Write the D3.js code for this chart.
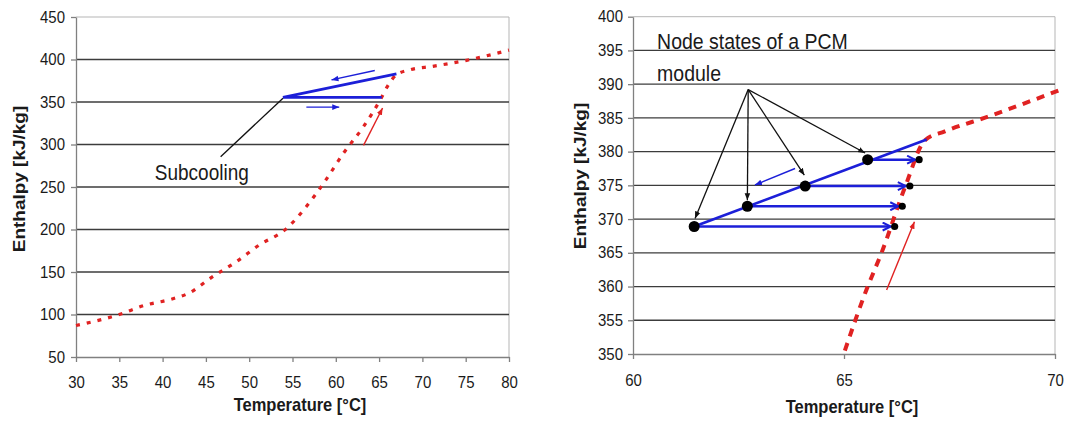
<!DOCTYPE html>
<html>
<head>
<meta charset="utf-8">
<script src="https://cdn.jsdelivr.net/npm/d3@7"></script>
<style>
  body { margin: 0; background: #fff; }
  svg text { font-family: "Liberation Sans", Arial, sans-serif; fill: #1a1a1a; }
</style>
</head>
<body>
<div id="chart"></div>
<script>
// ---- left panel: whole enthalpy curve ----
var leftXTicks = [30, 35, 40, 45, 50, 55, 60, 65, 70, 75, 80];
var leftYTicks = [50, 100, 150, 200, 250, 300, 350, 400, 450];
var leftCurve = [[30, 87], [35, 100], [38, 111], [41, 118], [43, 125], [45.7, 144], [48.5, 162],
  [51.2, 182], [54.3, 201], [56.6, 227], [58.7, 256], [60.9, 290], [63.2, 321], [65.1, 352],
  [66, 369], [67, 382], [68.6, 388], [71.2, 392], [75.1, 399], [80, 411]];
var leftCooling = [[65.3, 355.5], [53.9, 355.5], [67, 383]];
var leftBlueArrows = [[[64.5, 387], [59.5, 376]], [[56.6, 344], [60.4, 344]]];
var leftRedArrows = [[[63.2, 299], [65.4, 343]]];
var leftPointer = [[46.7, 285.6], [53.9, 354.5]];
var leftLabel = { t: 39.1, h: 258, lines: ["Subcooling"] };

// ---- right panel: zoom on the phase change ----
var rightXTicks = [60, 65, 70];
var rightYTicks = [350, 355, 360, 365, 370, 375, 380, 385, 390, 395, 400];
var rightCurve = [[65.02, 350.5], [65.53, 359.5], [65.89, 365], [66.45, 374.8], [66.92, 381.7],
  [67.39, 383], [68.42, 385.2], [70.1, 389.1]];
var rightCooling = [[61.45, 368.9], [66.96, 381.8]];
var nodeStart = [[61.45, 368.9], [62.71, 371.9], [64.08, 374.9], [65.56, 378.8]];
var nodeEnd = [[66.2, 368.9], [66.38, 371.9], [66.56, 374.9], [66.78, 378.8]];
var rightBlueArrows = [[[63.84, 377.5], [62.89, 375.05]]];
var rightRedArrows = [[[66.01, 359.5], [66.67, 369.6]]];
var pointerOrigin = [62.73, 389.2];
var pointerTargets = [[61.47, 370.1], [62.71, 372.8], [64.06, 376.5], [65.5, 379.8]];
var rightLabel = { t: 60.57, h: 395.2, lines: ["Node states of a PCM", "module"] };

var blue = "#1c1fd8", red = "#e02222";
var stretchY = 1.15; // the source picture is a little taller than wide

var svg = d3.select("#chart").append("svg")
  .attr("width", 1085)
  .attr("height", 426);

var defs = svg.append("defs");

function marker(id, color, size, open) {
  var m = defs.append("marker")
    .attr("id", id)
    .attr("viewBox", "0 0 10 10")
    .attr("refX", open ? 9 : 10)
    .attr("refY", 5)
    .attr("markerUnits", "userSpaceOnUse")
    .attr("markerWidth", size)
    .attr("markerHeight", size)
    .attr("orient", "auto");
  if (open) {
    m.append("path").attr("d", "M1,1L9,5L1,9")
      .attr("fill", "none").attr("stroke", color).attr("stroke-width", 2);
  } else {
    m.append("path").attr("d", "M0,1L10,5L0,9z").attr("fill", color);
  }
}
marker("headBlue", blue, 7, false);
marker("headRed", red, 7, false);
marker("headBlack", "#111", 7, false);
marker("headOpen", blue, 10, true);

// move x/y into a transform so the glyphs can be stretched vertically
function stretch(sel) {
  sel.each(function() {
    var t = d3.select(this);
    var x = +t.attr("x") || 0, y = +t.attr("y") || 0;
    t.attr("x", 0).attr("y", 0)
     .attr("transform", "translate(" + x + "," + y + ") scale(1," + stretchY + ")");
  });
}

function drawPanel(p) {
  var x = d3.scaleLinear().domain(p.xDomain).range([p.left, p.right]);
  var y = d3.scaleLinear().domain(p.yDomain).range([p.bottom, p.top]);
  var line = d3.line().x(d => x(d[0])).y(d => y(d[1]));

  var g = svg.append("g");

  // plot frame (top and right, light)
  g.append("path")
    .attr("d", "M" + p.left + "," + p.top + "H" + p.right + "V" + p.bottom)
    .attr("fill", "none")
    .attr("stroke", "#b5b5b5")
    .attr("stroke-width", 1);

  // gridlines
  g.selectAll(".grid")
    .data(p.yTicks.slice(1, -1))
    .enter().append("line")
      .attr("x1", p.left)
      .attr("x2", p.right)
      .attr("y1", d => y(d))
      .attr("y2", d => y(d))
      .attr("stroke", "#3c3c3c")
      .attr("stroke-width", 1.3);

  var xAxis = g.append("g")
    .attr("transform", "translate(0," + p.bottom + ")")
    .call(d3.axisBottom(x).tickValues(p.xTicks).tickSize(5).tickSizeOuter(0));
  xAxis.selectAll("text").attr("y", p.xLabelY).attr("dy", 0).style("font-size", "15px");
  stretch(xAxis.selectAll("text"));

  var yAxis = g.append("g")
    .attr("transform", "translate(" + p.left + ",0)")
    .call(d3.axisLeft(y).tickValues(p.yTicks).tickSize(5).tickSizeOuter(0));
  yAxis.selectAll("text").attr("x", -p.labelPad).attr("dy", "0.3em").style("font-size", "15px");
  stretch(yAxis.selectAll("text"));

  g.selectAll(".domain, .tick line").attr("stroke", "#808080").attr("stroke-width", 1.3);

  // titles
  g.append("text")
    .attr("x", p.xTitleX)
    .attr("y", p.xTitleY)
    .attr("text-anchor", "middle")
    .style("font-size", "16.5px")
    .style("font-weight", "bold")
    .text("Temperature [°C]")
    .call(stretch);

  g.append("text")
    .attr("transform", "translate(" + p.yTitleX + "," + p.yTitleY + ") rotate(-90) scale(" + stretchY + ",1)")
    .attr("text-anchor", "middle")
    .style("font-size", "16.5px")
    .style("font-weight", "bold")
    .text("Enthalpy [kJ/kg]");

  // red dotted enthalpy curve
  g.append("path")
    .datum(p.curve)
    .attr("d", d3.line().x(d => x(d[0])).y(d => y(d[1])).curve(d3.curveMonotoneX))
    .attr("fill", "none")
    .attr("stroke", red)
    .attr("stroke-width", p.dashWidth)
    .attr("stroke-dasharray", p.dash);

  // blue cooling path
  g.append("path")
    .datum(p.cooling)
    .attr("d", line)
    .attr("fill", "none")
    .attr("stroke", blue)
    .attr("stroke-width", 2.8);

  g.selectAll(".barrow")
    .data(p.blueArrows)
    .enter().append("path")
      .attr("d", line)
      .attr("stroke", blue)
      .attr("stroke-width", 1.4)
      .attr("marker-end", "url(#headBlue)");

  g.selectAll(".rarrow")
    .data(p.redArrows)
    .enter().append("path")
      .attr("d", line)
      .attr("stroke", red)
      .attr("stroke-width", 1.4)
      .attr("marker-end", "url(#headRed)");

  // annotation text
  g.selectAll(".note")
    .data(p.label.lines)
    .enter().append("text")
      .attr("x", x(p.label.t))
      .attr("y", (d, i) => y(p.label.h) + i * p.labelGap)
      .style("font-size", p.labelSize)
      .text(d => d)
      .call(stretch);

  return { x: x, y: y, g: g, line: line };
}

// ---- left ----
var L = drawPanel({
  xDomain: [30, 80], yDomain: [50, 450],
  left: 76, right: 509, top: 17, bottom: 357,
  xTicks: leftXTicks, yTicks: leftYTicks, labelPad: 11, xLabelY: 31,
  xTitleX: 300, xTitleY: 411, yTitleX: 25, yTitleY: 179,
  curve: leftCurve, cooling: leftCooling, dash: "4,7", dashWidth: 3.2,
  blueArrows: leftBlueArrows, redArrows: leftRedArrows,
  label: leftLabel, labelSize: "19px", labelGap: 0
});

L.g.append("path")
  .datum(leftPointer)
  .attr("d", L.line)
  .attr("stroke", "#111")
  .attr("stroke-width", 1.3);

// ---- right ----
var R = drawPanel({
  xDomain: [60, 70], yDomain: [350, 400],
  left: 633, right: 1055, top: 16.7, bottom: 354,
  xTicks: rightXTicks, yTicks: rightYTicks, labelPad: 10, xLabelY: 32,
  xTitleX: 852, xTitleY: 413, yTitleX: 586, yTitleY: 176,
  curve: rightCurve, cooling: rightCooling, dash: "8,7", dashWidth: 4,
  blueArrows: rightBlueArrows, redArrows: rightRedArrows,
  label: rightLabel, labelSize: "19.5px", labelGap: 32
});

// horizontal heating arrows from node states to the curve
R.g.selectAll(".harrow")
  .data(nodeStart)
  .enter().append("line")
    .attr("x1", d => R.x(d[0]))
    .attr("y1", d => R.y(d[1]))
    .attr("x2", (d, i) => R.x(nodeEnd[i][0]) - 4)
    .attr("y2", d => R.y(d[1]))
    .attr("stroke", blue)
    .attr("stroke-width", 2.6)
    .attr("marker-end", "url(#headOpen)");

// pointers from the label
R.g.selectAll(".pointer")
  .data(pointerTargets)
  .enter().append("line")
    .attr("x1", R.x(pointerOrigin[0]))
    .attr("y1", R.y(pointerOrigin[1]))
    .attr("x2", d => R.x(d[0]))
    .attr("y2", d => R.y(d[1]))
    .attr("stroke", "#111")
    .attr("stroke-width", 1.3)
    .attr("marker-end", "url(#headBlack)");

R.g.selectAll(".nodeStart")
  .data(nodeStart)
  .enter().append("circle")
    .attr("cx", d => R.x(d[0]))
    .attr("cy", d => R.y(d[1]))
    .attr("r", 5.5)
    .attr("fill", "#000");

R.g.selectAll(".nodeEnd")
  .data(nodeEnd)
  .enter().append("circle")
    .attr("cx", d => R.x(d[0]))
    .attr("cy", d => R.y(d[1]))
    .attr("r", 3.6)
    .attr("fill", "#000");
</script>
</body>
</html>
